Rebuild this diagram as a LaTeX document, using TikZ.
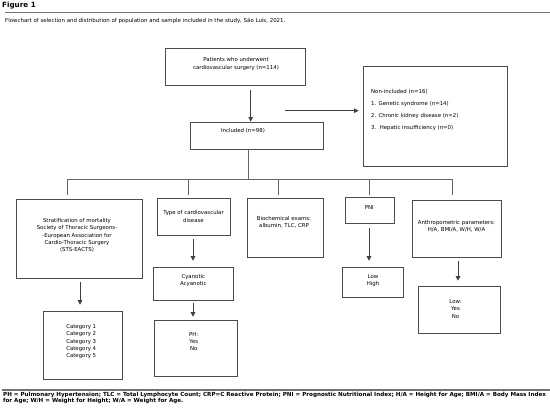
\documentclass[tikz,border=0pt]{standalone}
\usepackage{fontspec}
\setmainfont{DejaVu Sans}
\usetikzlibrary{arrows.meta,calc}
\begin{document}
\begin{tikzpicture}[x=1pt,y=-1pt,
  box/.style={draw=black!70, line width=0.6pt, inner sep=0pt},
  txt/.style={font=\fontsize{5.4}{7.3}\selectfont, align=center, inner sep=0pt, text=black},
  arr/.style={draw=black!75, line width=0.6pt, -{Triangle[length=4.5pt,width=4.5pt]}},
  ln/.style={draw=black!60, line width=0.6pt},
  rule/.style={draw=black!55, line width=1.4pt}]
\useasboundingbox (0,0) rectangle (550,412);
% header
\node[anchor=west, inner sep=0pt, font=\bfseries\fontsize{7.2}{8}\selectfont] (fig) at (2,5.5) {Figure 1};
\coordinate (r1a) at (5,12.5); \coordinate (r1b) at (550,12.5);
\draw[rule] (r1a) -- (r1b);
\node[anchor=west, inner sep=0pt, font=\fontsize{5.45}{6}\selectfont] (cap) at (5,21) {Flowchart of selection and distribution of population and sample included in the study, São Luís, 2021.};
% boxes
\node[box, minimum width=140pt, minimum height=37pt] (b1) at (235,66.5) {};
\node[box, minimum width=133pt, minimum height=27pt] (b2) at (256.5,135.5) {};
\node[box, minimum width=144pt, minimum height=100pt] (b3) at (435,116) {};
\node[box, minimum width=126pt, minimum height=79pt] (s1) at (79,238.5) {};
\node[box, minimum width=73pt, minimum height=37pt] (s2) at (193.5,216.5) {};
\node[box, minimum width=76pt, minimum height=59pt] (s3) at (285,227.5) {};
\node[box, minimum width=49pt, minimum height=26pt] (s4) at (369.5,210) {};
\node[box, minimum width=89pt, minimum height=57pt] (s5) at (456.5,228.5) {};
\node[box, minimum width=79pt, minimum height=68pt] (c1) at (82.5,345) {};
\node[box, minimum width=80pt, minimum height=33pt] (c2) at (193,283.5) {};
\node[box, minimum width=83pt, minimum height=56pt] (c3) at (195.5,348) {};
\node[box, minimum width=61pt, minimum height=30pt] (c4) at (372.5,282) {};
\node[box, minimum width=82pt, minimum height=47pt] (c5) at (459,309.5) {};
% texts
\node[txt] (t1) at (236,64) {Patients who underwent\\cardiovascular surgery (n=114)};
\node[txt] (t2) at (243,131) {Included (n=98)};
\node[txt, align=left, anchor=west, font=\fontsize{5.4}{11.9}\selectfont] (t3) at (371,110) {Non-included (n=16)\\1. Genetic syndrome (n=14)\\2. Chronic kidney disease (n=2)\\3.\ \ Hepatic insufficiency (n=0)};
\node[txt] (t4) at (77,235.5) {Stratification of mortality\\Society of Thoracic Surgeons-\\-European Association for\\Cardio-Thoracic Surgery\\(STS-EACTS)};
\node[txt] (t5) at (193.5,216.5) {Type of cardiovascular\\disease};
\node[txt] (t6) at (284,222.5) {Biochemical exams:\\albumin, TLC, CRP};
\node[txt] (t7) at (369.3,207.7) {PNI};
\node[txt] (t8) at (456.5,226) {Anthropometric parameters:\\H/A, BMI/A, W/H, W/A};
\node[txt] (t9) at (193.3,280.8) {Cyanotic\\Acyanotic};
\node[txt] (t10) at (81.2,341.7) {Category 1\\Category 2\\Category 3\\Category 4\\Category 5};
\node[txt] (t11) at (193.8,341.7) {PH:\\Yes\\No};
\node[txt] (t12) at (373,280.3) {Low\\High};
\node[txt] (t13) at (455.5,309) {Low:\\Yes\\No};
% top connectors
\coordinate (a1) at ($(b1.south)+(15.7,5)$);
\draw[arr] (a1) -- (a1 |- b2.north);
\coordinate (h1) at (285,110.7);
\draw[arr] (h1) -- ($(h1 -| b3.west)+(-4,0)$);
% tree
\coordinate (tr) at (248,179);
\draw[ln] (tr |- b2.south) -- (tr);
\coordinate (tl) at (67,179); \coordinate (trr) at (452,179);
\draw[ln] (tl) -- (trr);
\foreach \x in {67,188,278,369,452}{\draw[ln] (\x,179) -- (\x,195);}
% row arrows
\coordinate (d1) at (80,282); \draw[arr] (d1) -- ($(d1 |- c1.north)+(0,-6)$);
\coordinate (d2) at (193,239); \draw[arr] (d2) -- ($(d2 |- c2.north)+(0,-6)$);
\coordinate (d3) at (193,302.5); \draw[arr] (d3) -- ($(d3 |- c3.north)+(0,-3)$);
\coordinate (d4) at (369,228); \draw[arr] (d4) -- ($(d4 |- c4.north)+(0,-6)$);
\coordinate (d5) at (458,261); \draw[arr] (d5) -- ($(d5 |- c5.north)+(0,-5)$);
% footer
\coordinate (r2a) at (2,390); \coordinate (r2b) at (550,390);
\draw[rule] (r2a) -- (r2b);
\node[anchor=north west, inner sep=0pt, align=left, font=\bfseries\fontsize{5.6}{6.4}\selectfont] (foot) at (3,391.8) {PH = Pulmonary Hypertension; TLC = Total Lymphocyte Count; CRP=C Reactive Protein; PNI = Prognostic Nutritional Index; H/A = Height for Age; BMI/A = Body Mass Index\\for Age; W/H = Weight for Height; W/A = Weight for Age.};
\end{tikzpicture}
\end{document}
